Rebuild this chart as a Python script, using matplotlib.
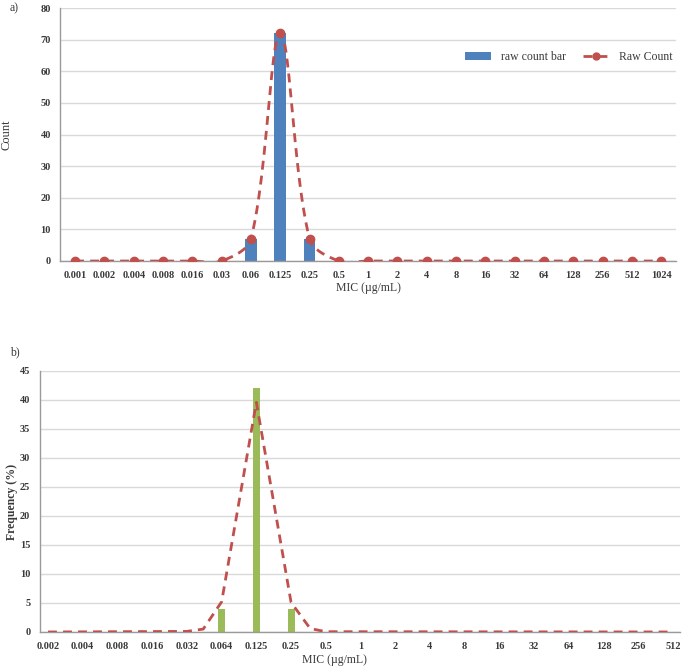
import numpy as np
import matplotlib
matplotlib.use("Agg")
from matplotlib import pyplot as plt

plt.rcParams['font.family'] = ['Liberation Serif', 'DejaVu Serif']

# panel a data
mic_a = ['0.001', '0.002', '0.004', '0.008', '0.016', '0.03', '0.06', '0.125', '0.25', '0.5',
         '1', '2', '4', '8', '16', '32', '64', '128', '256', '512', '1024']
count_a = [0, 0, 0, 0, 0, 0, 7, 72, 7, 0, 0, 0, 0, 0, 0, 0, 0, 0, 0, 0, 0]

# panel b data
mic_b = ['0.002', '0.004', '0.008', '0.016', '0.032', '0.064', '0.125', '0.25', '0.5',
         '1', '2', '4', '8', '16', '32', '64', '128', '256', '512']
freq_b = [0, 0, 0, 0, 0, 4, 42, 4, 0, 0, 0, 0, 0, 0, 0, 0, 0, 0, 0]
# fitted curve, sampled at (fractional) category positions
curve_idx = [0, 4, 4.47, 5, 6, 7, 7.55, 8, 18]
curve_val = [0, 0.1, 0.5, 5.2, 39.6, 5.1, 0.6, 0.05, 0]

BLUE = '#4F81BD'
RED = '#C0504D'
GREEN = '#9BBB59'
GRID = '#D9D9D9'
TICK = '#3a3a3a'


def smooth(ax, x, y, n=24):
    # excel-like smoothed line: bezier segments, tangents scaled by chord length
    fig = ax.figure
    fig.canvas.draw()
    pts = ax.transData.transform(np.column_stack([x, y]).astype(float))
    m = len(pts)
    out = [pts[0]]
    t = np.linspace(0, 1, n)[1:, None]
    for i in range(m - 1):
        p0, p1 = pts[i], pts[i + 1]
        a = pts[i - 1] if i > 0 else p0
        b = pts[i + 2] if i + 2 < m else p1
        l0 = np.linalg.norm(p0 - a)
        l1 = np.linalg.norm(p1 - p0)
        l2 = np.linalg.norm(b - p1)
        c1 = p0 + (p1 - a) * (l1 / (l0 + l1) / 3 if l0 + l1 > 0 else 0)
        c2 = p1 - (b - p0) * (l1 / (l1 + l2) / 3 if l1 + l2 > 0 else 0)
        seg = ((1 - t) ** 3) * p0 + 3 * ((1 - t) ** 2) * t * c1 + 3 * (1 - t) * t ** 2 * c2 + t ** 3 * p1
        out.extend(seg)
    out = ax.transData.inverted().transform(np.array(out))
    return out[:, 0], out[:, 1]


def style(ax):
    for s in ['top', 'right']:
        ax.spines[s].set_visible(False)
    for s in ['left', 'bottom']:
        ax.spines[s].set_color('#9a9a9a')
        ax.spines[s].set_linewidth(1.0)
    ax.yaxis.grid(True, color=GRID, linewidth=1.0)
    ax.set_axisbelow(True)
    ax.tick_params(length=0, labelsize=7.5, colors=TICK, pad=7)
    for lab in ax.get_xticklabels() + ax.get_yticklabels():
        lab.set_fontweight('bold')


fig = plt.figure(figsize=(6.82, 6.67), dpi=100)

# ---- panel a ----
ax1 = fig.add_axes([0.0887, 0.6087, 0.9023, 0.3793])
xa = np.arange(len(mic_a))
ax1.set_xlim(-0.5, 20.5)
ax1.set_ylim(0, 80)
bars = ax1.bar(xa, count_a, width=0.4, color=BLUE, label='raw count bar', zorder=2)
sx, sy = smooth(ax1, xa, count_a)
ax1.plot(sx, sy, color=RED, linestyle=(0, (3.2, 2.2)), linewidth=2, zorder=3)
ax1.plot(xa, count_a, linestyle='none', marker='o', markersize=6, color=RED, zorder=4)
line_handle, = ax1.plot([], [], color=RED, linestyle=(0, (3.2, 2.2)), linewidth=2, marker='o',
                        markersize=5, label='Raw Count')
ax1.set_yticks(range(0, 81, 10))
ax1.set_xticks(xa)
ax1.set_xticklabels(mic_a)
style(ax1)
ax1.set_ylabel('Count', fontsize=9, color=TICK, va='center')
ax1.yaxis.set_label_coords(-0.087, 0.5)
ax1.set_xlabel('MIC (µg/mL)', fontsize=8.5, color=TICK, va='center')
ax1.xaxis.set_label_coords(0.5, -0.105)
ax1.legend([bars, line_handle], ['raw count bar', 'Raw Count'], loc='center',
           bbox_to_anchor=(0.826, 0.806), ncol=2, frameon=False, fontsize=8.5,
           handlelength=2.2, columnspacing=1.5, labelcolor=TICK)

# ---- panel b ----
ax2 = fig.add_axes([0.0587, 0.0525, 0.9383, 0.3913])
xb = np.arange(len(mic_b))
ax2.bar(xb, freq_b, width=0.2, color=GREEN, zorder=2)
ax2.plot(curve_idx, curve_val, color=RED, linestyle=(0, (3.2, 2.2)), linewidth=2, zorder=3)
ax2.set_xlim(-0.23, 18.2)
ax2.set_ylim(0, 45)
ax2.set_yticks(range(0, 46, 5))
ax2.set_xticks(xb)
ax2.set_xticklabels(mic_b)
style(ax2)
ax2.set_ylabel('Frequency (%)', fontsize=8.5, color=TICK, fontweight='bold', va='center')
ax2.yaxis.set_label_coords(-0.044, 0.5)
ax2.set_xlabel('MIC (µg/mL)', fontsize=8.5, color=TICK, va='center')
ax2.xaxis.set_label_coords(0.46, -0.107)

fig.text(10 / 682, 1 - 8 / 667, 'a)', fontsize=8.5, va='center', ha='left', color=TICK)
fig.text(10 / 682, 1 - 352 / 667, 'b)', fontsize=8.5, va='center', ha='left', color=TICK)

fig.savefig('out.png', dpi=100)
